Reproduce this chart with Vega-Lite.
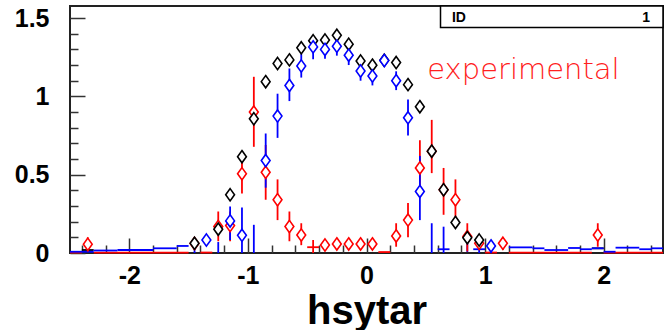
{
  "$schema": "https://vega.github.io/schema/vega-lite/v6.json",
  "width": 593,
  "height": 247,
  "autosize": "none",
  "padding": {"left": 70, "top": 6, "right": 8, "bottom": 77},
  "config": {
    "font": "Liberation Sans",
    "view": {"stroke": "#222222", "strokeWidth": 2},
    "axis": {"grid": false, "domain": false, "tickColor": "#333333", "tickWidth": 1.5, "labelColor": "#000000", "titleColor": "#000000"}
  },
  "datasets": {
    "pts": [
      {"s": "red", "x": -2.35, "y": 0.056, "lo": 0.01, "hi": 0.1},
      {"s": "red", "x": -1.45, "y": 0.06, "lo": 0.02, "hi": 0.1},
      {"s": "red", "x": -1.25, "y": 0.169, "lo": 0.075, "hi": 0.265},
      {"s": "red", "x": -1.15, "y": 0.175, "lo": 0.075, "hi": 0.265},
      {"s": "red", "x": -1.05, "y": 0.506, "lo": 0.38, "hi": 0.62},
      {"s": "red", "x": -0.95, "y": 0.9, "lo": 0.678, "hi": 1.125},
      {"s": "red", "x": -0.85, "y": 0.515, "lo": 0.34, "hi": 0.69},
      {"s": "red", "x": -0.75, "y": 0.34, "lo": 0.21, "hi": 0.47},
      {"s": "red", "x": -0.65, "y": 0.169, "lo": 0.075, "hi": 0.265},
      {"s": "red", "x": -0.55, "y": 0.115, "lo": 0.05, "hi": 0.19},
      {"s": "red", "x": -0.35, "y": 0.051, "lo": 0.02, "hi": 0.08},
      {"s": "red", "x": -0.25, "y": 0.058, "lo": 0.03, "hi": 0.09},
      {"s": "red", "x": -0.15, "y": 0.058, "lo": 0.03, "hi": 0.09},
      {"s": "red", "x": -0.05, "y": 0.058, "lo": 0.03, "hi": 0.09},
      {"s": "red", "x": 0.05, "y": 0.058, "lo": 0.03, "hi": 0.09},
      {"s": "red", "x": 0.25, "y": 0.109, "lo": 0.04, "hi": 0.19},
      {"s": "red", "x": 0.35, "y": 0.21, "lo": 0.1, "hi": 0.32},
      {"s": "red", "x": 0.45, "y": 0.543, "lo": 0.4, "hi": 0.72},
      {"s": "red", "x": 0.55, "y": 0.649, "lo": 0.51, "hi": 0.85},
      {"s": "red", "x": 0.65, "y": 0.404, "lo": 0.244, "hi": 0.543},
      {"s": "red", "x": 0.75, "y": 0.34, "lo": 0.21, "hi": 0.47},
      {"s": "red", "x": 0.85, "y": 0.105, "lo": 0.01, "hi": 0.19},
      {"s": "red", "x": 0.95, "y": 0.062, "lo": 0.02, "hi": 0.1},
      {"s": "red", "x": 1.15, "y": 0.062, "lo": 0.02, "hi": 0.1},
      {"s": "red", "x": 1.95, "y": 0.115, "lo": 0.04, "hi": 0.19},
      {"s": "black", "x": -1.45, "y": 0.062, "lo": 0.055, "hi": 0.07},
      {"s": "black", "x": -1.25, "y": 0.152, "lo": 0.145, "hi": 0.16},
      {"s": "black", "x": -1.15, "y": 0.372, "lo": 0.365, "hi": 0.38},
      {"s": "black", "x": -1.05, "y": 0.615, "lo": 0.605, "hi": 0.625},
      {"s": "black", "x": -0.95, "y": 0.857, "lo": 0.85, "hi": 0.865},
      {"s": "black", "x": -0.85, "y": 1.094, "lo": 1.085, "hi": 1.1},
      {"s": "black", "x": -0.75, "y": 1.21, "lo": 1.2, "hi": 1.22},
      {"s": "black", "x": -0.65, "y": 1.233, "lo": 1.225, "hi": 1.24},
      {"s": "black", "x": -0.55, "y": 1.31, "lo": 1.3, "hi": 1.32},
      {"s": "black", "x": -0.45, "y": 1.355, "lo": 1.345, "hi": 1.365},
      {"s": "black", "x": -0.35, "y": 1.36, "lo": 1.35, "hi": 1.37},
      {"s": "black", "x": -0.25, "y": 1.39, "lo": 1.38, "hi": 1.4},
      {"s": "black", "x": -0.15, "y": 1.333, "lo": 1.325, "hi": 1.34},
      {"s": "black", "x": -0.05, "y": 1.226, "lo": 1.22, "hi": 1.235},
      {"s": "black", "x": 0.05, "y": 1.199, "lo": 1.19, "hi": 1.205},
      {"s": "black", "x": 0.15, "y": 1.23, "lo": 1.22, "hi": 1.24},
      {"s": "black", "x": 0.25, "y": 1.216, "lo": 1.21, "hi": 1.225},
      {"s": "black", "x": 0.35, "y": 1.075, "lo": 1.065, "hi": 1.085},
      {"s": "black", "x": 0.45, "y": 0.934, "lo": 0.925, "hi": 0.94},
      {"s": "black", "x": 0.55, "y": 0.65, "lo": 0.64, "hi": 0.66},
      {"s": "black", "x": 0.65, "y": 0.404, "lo": 0.395, "hi": 0.41},
      {"s": "black", "x": 0.75, "y": 0.195, "lo": 0.19, "hi": 0.2},
      {"s": "black", "x": 0.85, "y": 0.098, "lo": 0.09, "hi": 0.105},
      {"s": "black", "x": 0.95, "y": 0.083, "lo": 0.075, "hi": 0.09},
      {"s": "blue", "x": -1.35, "y": 0.083, "lo": 0.06, "hi": 0.11},
      {"s": "blue", "x": -1.15, "y": 0.205, "lo": 0.083, "hi": 0.297},
      {"s": "blue", "x": -1.05, "y": 0.113, "lo": 0.0, "hi": 0.29},
      {"s": "blue", "x": -0.85, "y": 0.59, "lo": 0.417, "hi": 0.763},
      {"s": "blue", "x": -0.75, "y": 0.874, "lo": 0.735, "hi": 1.017},
      {"s": "blue", "x": -0.65, "y": 1.07, "lo": 0.97, "hi": 1.178},
      {"s": "blue", "x": -0.55, "y": 1.194, "lo": 1.12, "hi": 1.27},
      {"s": "blue", "x": -0.45, "y": 1.316, "lo": 1.237, "hi": 1.387},
      {"s": "blue", "x": -0.35, "y": 1.3, "lo": 1.24, "hi": 1.36},
      {"s": "blue", "x": -0.25, "y": 1.32, "lo": 1.26, "hi": 1.38},
      {"s": "blue", "x": -0.15, "y": 1.263, "lo": 1.2, "hi": 1.32},
      {"s": "blue", "x": -0.05, "y": 1.162, "lo": 1.1, "hi": 1.22},
      {"s": "blue", "x": 0.05, "y": 1.13, "lo": 1.07, "hi": 1.19},
      {"s": "blue", "x": 0.15, "y": 1.229, "lo": 1.19, "hi": 1.27},
      {"s": "blue", "x": 0.25, "y": 1.1, "lo": 1.04, "hi": 1.16},
      {"s": "blue", "x": 0.35, "y": 0.863, "lo": 0.75, "hi": 0.98},
      {"s": "blue", "x": 0.45, "y": 0.393, "lo": 0.21, "hi": 0.62},
      {"s": "blue", "x": 1.05, "y": 0.045, "lo": 0.0, "hi": 0.08}
    ],
    "bars": [
      {"s": "blue", "x": -1.45, "lo": 0.0, "hi": 0.09},
      {"s": "blue", "x": -1.25, "lo": 0.0, "hi": 0.07},
      {"s": "blue", "x": -0.95, "lo": 0.0, "hi": 0.18},
      {"s": "blue", "x": 0.55, "lo": 0.0, "hi": 0.19},
      {"s": "blue", "x": 0.65, "lo": 0.0, "hi": 0.168},
      {"s": "blue", "x": 0.85, "lo": 0.006, "hi": 0.115},
      {"s": "blue", "x": 0.95, "lo": 0.0, "hi": 0.083},
      {"s": "red", "x": -0.45, "lo": 0.0, "hi": 0.083}
    ],
    "segs": [
      {"s": "red", "a": -2.5, "b": -2.4, "y": 0.003},
      {"s": "red", "a": -2.3, "b": -1.5, "y": 0.003},
      {"s": "red", "a": -1.4, "b": -1.3, "y": 0.003},
      {"s": "red", "a": -0.5, "b": -0.4, "y": 0.037},
      {"s": "red", "a": 0.1, "b": 0.2, "y": 0.006},
      {"s": "red", "a": 1.0, "b": 1.1, "y": 0.003},
      {"s": "red", "a": 1.2, "b": 1.9, "y": 0.003},
      {"s": "red", "a": 2.0, "b": 2.5, "y": 0.003},
      {"s": "black", "a": -2.4, "b": -2.3, "y": 0.019},
      {"s": "black", "a": 1.9, "b": 2.0, "y": 0.03},
      {"s": "blue", "a": -2.5, "b": -2.3, "y": 0.008},
      {"s": "blue", "a": -2.3, "b": -2.1, "y": 0.016},
      {"s": "blue", "a": -2.1, "b": -1.8, "y": 0.019},
      {"s": "blue", "a": -1.8, "b": -1.6, "y": 0.03},
      {"s": "blue", "a": -1.6, "b": -1.5, "y": 0.045},
      {"s": "blue", "a": 0.6, "b": 0.7, "y": 0.024},
      {"s": "blue", "a": 0.9, "b": 1.0, "y": 0.024},
      {"s": "blue", "a": 1.2, "b": 1.4, "y": 0.036},
      {"s": "blue", "a": 1.4, "b": 1.5, "y": 0.03},
      {"s": "blue", "a": 1.5, "b": 1.7, "y": 0.019},
      {"s": "blue", "a": 1.7, "b": 1.8, "y": 0.032},
      {"s": "blue", "a": 1.8, "b": 1.9, "y": 0.024},
      {"s": "blue", "a": 1.9, "b": 2.0, "y": 0.03},
      {"s": "blue", "a": 2.0, "b": 2.1, "y": 0.008},
      {"s": "blue", "a": 2.1, "b": 2.3, "y": 0.034},
      {"s": "blue", "a": 2.3, "b": 2.4, "y": 0.024},
      {"s": "blue", "a": 2.4, "b": 2.5, "y": 0.03}
    ],
    "box": [{"x0": 0.624, "x1": 2.5, "y0": 1.44, "y1": 1.577}],
    "boxL": [{"x": 0.72, "y": 1.477, "t": "ID"}],
    "boxR": [{"x": 2.39, "y": 1.477, "t": "1"}],
    "note": [{"x": 0.512, "y": 1.109, "t": "experimental"}]
  },
  "resolve": {"axis": {"x": "independent", "y": "independent"}},
  "layer": [
    {
      "data": {"name": "segs"},
      "mark": {"type": "rule", "strokeWidth": 1.8},
      "encoding": {
        "x": {"field": "a", "type": "quantitative", "scale": {"domain": [-2.5, 2.5], "nice": false, "zero": false},
          "axis": {"orient": "bottom", "values": [-2.4, -2.2, -1.8, -1.6, -1.4, -1.2, -0.8, -0.6, -0.4, -0.2, 0.2, 0.4, 0.6, 0.8, 1.2, 1.4, 1.6, 1.8, 2.2, 2.4], "tickSize": -8, "labels": false, "title": null}},
        "x2": {"field": "b"},
        "y": {"field": "y", "type": "quantitative", "scale": {"domain": [0, 1.577], "nice": false, "zero": false},
          "axis": {"orient": "left", "values": [0.1, 0.2, 0.3, 0.4, 0.6, 0.7, 0.8, 0.9, 1.1, 1.2, 1.3, 1.4], "tickSize": -8, "labels": false, "title": null}},
        "color": {"field": "s", "type": "nominal", "scale": {"domain": ["black", "blue", "red"], "range": ["#000000", "#0000ff", "#ff0000"]}, "legend": null}
      }
    },
    {
      "data": {"name": "bars"},
      "mark": {"type": "rule", "strokeWidth": 1.8},
      "encoding": {
        "x": {"field": "x", "type": "quantitative",
          "axis": {"orient": "bottom", "values": [-2, -1, 0, 1, 2], "labelExpr": "'' + datum.value", "tickSize": -15, "labelFontSize": 25, "labelFontWeight": "bold", "labelPadding": 25,
            "title": "hsytar", "titleFontSize": 40, "titleFontWeight": "bold", "titleY": 70, "titleBaseline": "alphabetic"}},
        "y": {"field": "lo", "type": "quantitative",
          "axis": {"orient": "left", "values": [0, 0.5, 1, 1.5], "labelExpr": "'' + datum.value", "tickSize": -15, "labelFontSize": 25, "labelFontWeight": "bold", "labelPadding": 36, "title": null}},
        "y2": {"field": "hi"},
        "color": {"field": "s", "type": "nominal", "scale": {"domain": ["black", "blue", "red"], "range": ["#000000", "#0000ff", "#ff0000"]}, "legend": null}
      }
    },
    {
      "data": {"name": "pts"},
      "mark": {"type": "rule", "strokeWidth": 1.8},
      "encoding": {
        "x": {"field": "x", "type": "quantitative", "axis": null},
        "y": {"field": "lo", "type": "quantitative", "axis": null},
        "y2": {"field": "hi"},
        "color": {"field": "s", "type": "nominal", "scale": {"domain": ["black", "blue", "red"], "range": ["#000000", "#0000ff", "#ff0000"]}, "legend": null}
      }
    },
    {
      "data": {"name": "pts"},
      "mark": {"type": "point", "shape": "M0,-1L0.72,0L0,1L-0.72,0Z", "size": 150, "strokeWidth": 1.6, "fill": "#ffffff", "fillOpacity": 1, "opacity": 1},
      "encoding": {
        "x": {"field": "x", "type": "quantitative", "axis": null},
        "y": {"field": "y", "type": "quantitative", "axis": null},
        "stroke": {"field": "s", "type": "nominal", "scale": {"domain": ["black", "blue", "red"], "range": ["#000000", "#0000ff", "#ff0000"]}, "legend": null}
      }
    },
    {
      "data": {"name": "box"},
      "mark": {"type": "rect", "fill": "#ffffff", "stroke": "#000000", "strokeWidth": 1.5},
      "encoding": {
        "x": {"field": "x0", "type": "quantitative", "axis": null},
        "x2": {"field": "x1"},
        "y": {"field": "y0", "type": "quantitative", "axis": null},
        "y2": {"field": "y1"}
      }
    },
    {
      "data": {"name": "boxL"},
      "mark": {"type": "text", "align": "left", "baseline": "alphabetic", "fontSize": 14, "fontWeight": "bold", "color": "#000000"},
      "encoding": {
        "x": {"field": "x", "type": "quantitative", "axis": null},
        "y": {"field": "y", "type": "quantitative", "axis": null},
        "text": {"field": "t"}
      }
    },
    {
      "data": {"name": "boxR"},
      "mark": {"type": "text", "align": "right", "baseline": "alphabetic", "fontSize": 14, "fontWeight": "bold", "color": "#000000"},
      "encoding": {
        "x": {"field": "x", "type": "quantitative", "axis": null},
        "y": {"field": "y", "type": "quantitative", "axis": null},
        "text": {"field": "t"}
      }
    },
    {
      "data": {"name": "note"},
      "mark": {"type": "text", "align": "left", "baseline": "alphabetic", "font": "DejaVu Sans", "fontSize": 29, "fontWeight": 200, "color": "#ff2020"},
      "encoding": {
        "x": {"field": "x", "type": "quantitative", "axis": null},
        "y": {"field": "y", "type": "quantitative", "axis": null},
        "text": {"field": "t"}
      }
    }
  ]
}
